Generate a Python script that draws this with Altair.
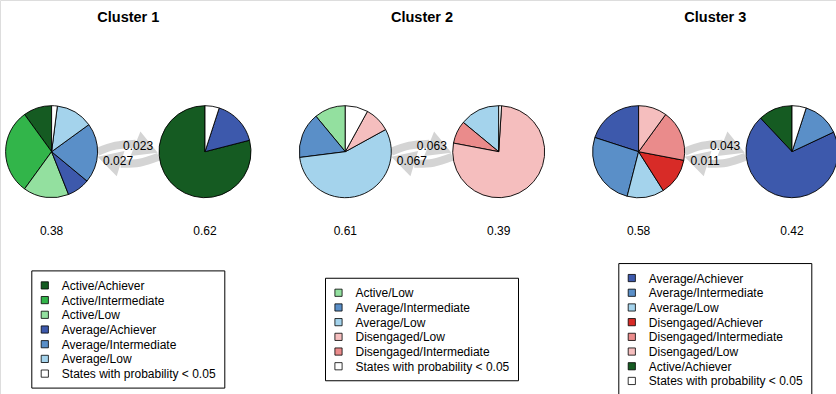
import math
import altair as alt
import pandas as pd

W, H = 836, 394
FONT = "Liberation Sans"
OTHER = "States with probability < 0.05"

# ---- model summary -------------------------------------------------------
clusters = ["Cluster 1", "Cluster 2", "Cluster 3"]
initial_probs = [[0.38, 0.62], [0.61, 0.39], [0.58, 0.42]]
trans_forward = [0.023, 0.063, 0.043]   # hidden state 1 -> hidden state 2
trans_back = [0.027, 0.067, 0.011]      # hidden state 2 -> hidden state 1

# emission probabilities, listed counter-clockwise from 12 o'clock
c1_s1_states = ["Active/Achiever", "Active/Intermediate", "Active/Low",
                "Average/Achiever", "Average/Intermediate", "Average/Low", OTHER]
c1_s1_probs = [0.10, 0.30, 0.16, 0.08, 0.21, 0.13, 0.02]
c1_s2_states = ["Active/Achiever", "Average/Achiever", OTHER]
c1_s2_probs = [0.79, 0.16, 0.05]

c2_s1_states = ["Active/Low", "Average/Intermediate", "Average/Low",
                "Disengaged/Low", OTHER]
c2_s1_probs = [0.11, 0.16, 0.56, 0.09, 0.08]
c2_s2_states = ["Average/Low", "Disengaged/Intermediate", "Disengaged/Low", OTHER]
c2_s2_probs = [0.14, 0.08, 0.77, 0.01]

c3_s1_states = ["Average/Achiever", "Average/Intermediate", "Average/Low",
                "Disengaged/Achiever", "Disengaged/Intermediate", "Disengaged/Low"]
c3_s1_probs = [0.20, 0.26, 0.13, 0.13, 0.18, 0.10]
c3_s2_states = ["Active/Achiever", "Average/Achiever", "Average/Intermediate", OTHER]
c3_s2_probs = [0.12, 0.70, 0.13, 0.05]

legend_c1 = ["Active/Achiever", "Active/Intermediate", "Active/Low",
             "Average/Achiever", "Average/Intermediate", "Average/Low", OTHER]
legend_c2 = ["Active/Low", "Average/Intermediate", "Average/Low",
             "Disengaged/Low", "Disengaged/Intermediate", OTHER]
legend_c3 = ["Average/Achiever", "Average/Intermediate", "Average/Low",
             "Disengaged/Achiever", "Disengaged/Intermediate", "Disengaged/Low",
             "Active/Achiever", OTHER]

state_names = ["Active/Achiever", "Active/Intermediate", "Active/Low",
               "Average/Achiever", "Average/Intermediate", "Average/Low",
               "Disengaged/Achiever", "Disengaged/Intermediate", "Disengaged/Low",
               OTHER]
state_colors = ["#155b22", "#32b54a", "#93e09f",
                "#3d59ac", "#5a8fc8", "#a4d3ec",
                "#d82b27", "#ea8b8b", "#f5bebe",
                "#ffffff"]

# ---- layout --------------------------------------------------------------
cluster_cx = [128.3, 422.0, 715.3]
pie_dx = 76.7
pie_cy = 151.7
pie_r = 46
row_h = 14.7
legend_w = 193
legend_mid = 329.5

pies = [
    [(c1_s1_states, c1_s1_probs), (c1_s2_states, c1_s2_probs)],
    [(c2_s1_states, c2_s1_probs), (c2_s2_states, c2_s2_probs)],
    [(c3_s1_states, c3_s1_probs), (c3_s2_states, c3_s2_probs)],
]
legends = [legend_c1, legend_c2, legend_c3]

arc_rows, init_rows, title_rows = [], [], []
band_rows, head_rows, trans_rows = [], [], []
box_rows, key_rows = [], []

for ci, cc in enumerate(cluster_cx):
    centers = [cc - pie_dx, cc + pie_dx]
    title_rows.append({"x": cc, "y": 21.5, "label": clusters[ci]})
    for si, (states, probs) in enumerate(pies[ci]):
        total = sum(probs)
        cum = 0.0
        for st, p in zip(states, probs):
            # counter-clockwise sweep: angles measured clockwise from the top
            t1 = 1 - cum / total
            cum += p
            t0 = 1 - cum / total
            arc_rows.append({"cx": centers[si], "cy": pie_cy,
                             "t0": t0, "t1": t1, "state": st})
        init_rows.append({"x": centers[si], "y": 235,
                          "label": f"{initial_probs[ci][si]:.2f}"})

    # curved transition arrows between the two hidden states
    x0 = centers[0]
    for k, (dx, dy) in enumerate([(46, 0), (64, -6), (84, -8)]):
        band_rows.append({"arrow": f"{ci}f", "k": k, "x": x0 + dx, "y": pie_cy + dy})
    for k, (dx, dy) in enumerate([(107, 5), (88, 11), (69, 12)]):
        band_rows.append({"arrow": f"{ci}b", "k": k, "x": x0 + dx, "y": pie_cy + dy})
    head_rows.append({"x": x0 + 95, "y": pie_cy - 3.5, "ang": 22})
    head_rows.append({"x": x0 + 57.5, "y": pie_cy + 8.5, "ang": 197})
    trans_rows.append({"x": x0 + 86.5, "y": pie_cy - 2, "label": f"{trans_forward[ci]:.3f}"})
    trans_rows.append({"x": x0 + 66.5, "y": pie_cy + 13, "label": f"{trans_back[ci]:.3f}"})

    # legend box centred under the cluster
    items = legends[ci]
    n = len(items)
    box_h = (n - 1) * row_h + 29
    top = legend_mid - box_h / 2
    left = cc - legend_w / 2
    box_rows.append({"x": left, "x2": left + legend_w, "y": top, "y2": top + box_h})
    for i, st in enumerate(items):
        key_rows.append({"x": left + 13, "tx": left + 30,
                         "y": top + 14.5 + i * row_h, "state": st})

xs = alt.Scale(domain=[0, W], range=[0, W], nice=False, zero=False)
ys = alt.Scale(domain=[0, H], range=[0, H], nice=False, zero=False)
X = lambda f: alt.X(f, type="quantitative", scale=xs, axis=None)
Y = lambda f: alt.Y(f, type="quantitative", scale=ys, axis=None)
cs = alt.Scale(domain=state_names, range=state_colors)

bands = alt.Chart(pd.DataFrame(band_rows)).mark_line(
    strokeWidth=8, color="#d4d4d4", interpolate="natural", strokeCap="butt"
).encode(x=X("x"), y=Y("y"), detail="arrow:N", order="k:Q")

heads = alt.Chart(pd.DataFrame(head_rows)).mark_point(
    shape="M -1 -1.1 L 1 0 L -1 1.1 Z", filled=True, color="#d4d4d4",
    opacity=1, size=576
).encode(x=X("x"), y=Y("y"), angle=alt.Angle("ang:Q", scale=None))

arcs = alt.Chart(pd.DataFrame(arc_rows)).mark_arc(
    radius=pie_r, stroke="black", strokeWidth=0.9
).encode(
    x=X("cx"), y=Y("cy"),
    theta=alt.Theta("t0:Q", scale=alt.Scale(domain=[0, 1], range=[0, 2 * math.pi]),
                    stack=False),
    theta2="t1:Q",
    color=alt.Color("state:N", scale=cs, legend=None),
)

trans_text = alt.Chart(pd.DataFrame(trans_rows)).mark_text(
    font=FONT, fontSize=12, color="black", align="center", baseline="alphabetic"
).encode(x=X("x"), y=Y("y"), text="label:N")

init_text = alt.Chart(pd.DataFrame(init_rows)).mark_text(
    font=FONT, fontSize=12, color="black", align="center", baseline="alphabetic"
).encode(x=X("x"), y=Y("y"), text="label:N")

titles = alt.Chart(pd.DataFrame(title_rows)).mark_text(
    font=FONT, fontSize=14.5, fontWeight="bold", color="black",
    align="center", baseline="alphabetic"
).encode(x=X("x"), y=Y("y"), text="label:N")

boxes = alt.Chart(pd.DataFrame(box_rows)).mark_rect(
    fill="white", stroke="black", strokeWidth=1
).encode(x=X("x"), x2="x2", y=Y("y"), y2="y2")

keys = alt.Chart(pd.DataFrame(key_rows)).mark_point(
    shape="square", filled=True, size=52, stroke="black", strokeWidth=0.8, opacity=1
).encode(x=X("x"), y=Y("y"), fill=alt.Fill("state:N", scale=cs, legend=None))

key_text = alt.Chart(pd.DataFrame(key_rows)).mark_text(
    font=FONT, fontSize=12, color="black", align="left", baseline="middle", dy=0.5
).encode(x=X("tx"), y=Y("y"), text="state:N")

chart = alt.layer(
    bands, heads, arcs, trans_text, init_text, titles, boxes, keys, key_text
).properties(
    width=W, height=H, autosize=alt.AutoSizeParams(type="none"), padding=0
).configure_view(stroke=None).configure(background="white")

chart.save("out.html", embed_options={"renderer": "svg", "actions": False})
